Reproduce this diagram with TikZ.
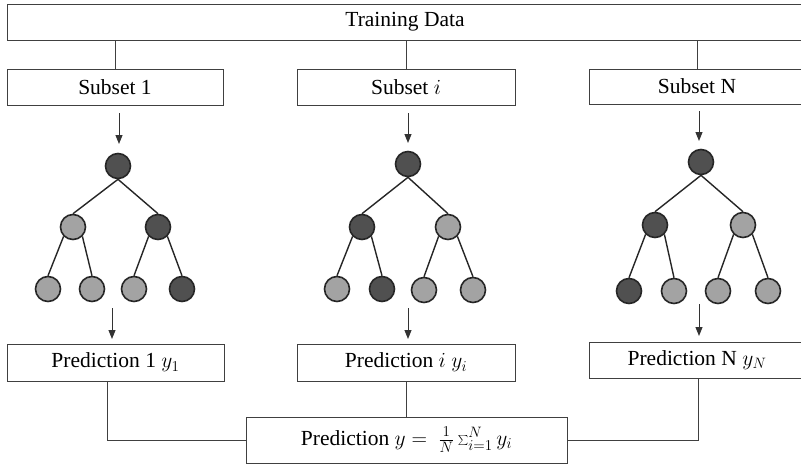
\RequirePackage{fix-cm}
\documentclass[tikz,border=0pt]{standalone}
\usepackage{fontspec}
\setmainfont{Liberation Serif}
\usetikzlibrary{arrows.meta}
\definecolor{dkfill}{HTML}{505050}
\definecolor{ltfill}{HTML}{A3A3A3}
\definecolor{boxline}{HTML}{404040}
\begin{document}
\begin{tikzpicture}[x=1pt,y=-1pt,
  box/.style={draw=boxline,line width=1pt,fill=white,inner sep=0pt,
    font=\fontsize{21.5}{26}\selectfont},
  dk/.style={circle,draw=black!85,line width=1.6pt,fill=dkfill,minimum size=25pt,inner sep=0pt},
  lt/.style={circle,draw=black!85,line width=1.6pt,fill=ltfill,minimum size=25pt,inner sep=0pt},
  edge/.style={draw=black!85,line width=1.4pt},
  conn/.style={draw=boxline,line width=1pt},
  arr/.style={draw=black!80,line width=1pt,-{Triangle[length=9pt,width=7pt]}}]
\useasboundingbox (0,0) rectangle (801,464);
\clip (0,0) rectangle (801,464);
\fill[white] (0,0) rectangle (801,464);

% boxes
\node[box,minimum width=796pt,minimum height=36pt] (train) at (405,22) {Training Data};
\node[box,minimum width=216pt,minimum height=36pt] (s1) at (115,87) {Subset 1};
\node[box,minimum width=218pt,minimum height=36pt] (si) at (406,87) {Subset $i$};
\node[box,minimum width=216pt,minimum height=35pt] (sN) at (697,86.5) {Subset N};
\node[box,minimum width=217pt,minimum height=37pt] (p1) at (115.5,362.5) {Prediction 1 $y_1$};
\node[box,minimum width=218pt,minimum height=37pt] (pi) at (406,362.5) {Prediction $i$ $y_i$};
\node[box,minimum width=216pt,minimum height=36pt] (pN) at (697,360) {Prediction N $y_N$};
\node[box,minimum width=321pt,minimum height=46pt] (pall) at (406.5,440) {Prediction $y = \ \frac{1}{N}\sum_{i=1}^{N} y_i$};

% training data to subsets
\draw[conn] (train.south -| s1.north) -- (s1.north);
\draw[conn] (train.south -| si.north) -- (si.north);
\draw[conn] (train.south -| sN.north) -- (sN.north);

% edges first (behind circles)
\coordinate (a0) at (118,166); \coordinate (a1) at (73,227); \coordinate (a2) at (158,227);
\coordinate (a3) at (48,289); \coordinate (a4) at (92,289); \coordinate (a5) at (134,289); \coordinate (a6) at (182,289);
\coordinate (b0) at (408,164); \coordinate (b1) at (362,227); \coordinate (b2) at (448,227);
\coordinate (b3) at (337,289); \coordinate (b4) at (382,289); \coordinate (b5) at (424,290); \coordinate (b6) at (473,290);
\coordinate (c0) at (701,162); \coordinate (c1) at (655,225); \coordinate (c2) at (743,225);
\coordinate (c3) at (629,291); \coordinate (c4) at (674,291); \coordinate (c5) at (718,291); \coordinate (c6) at (768,291);

% tree 1
\node[dk] (na0) at (a0) {};
\node[lt] (na1) at (a1) {};
\node[dk] (na2) at (a2) {};
\node[lt] (na3) at (a3) {};
\node[lt] (na4) at (a4) {};
\node[lt] (na5) at (a5) {};
\node[dk] (na6) at (a6) {};
\draw[edge] (na0.south) -- (na1.north); \draw[edge] (na0.south) -- (na2.north);
\draw[edge] (na1.south west) -- (na3.north); \draw[edge] (na1.south east) -- (na4.north);
\draw[edge] (na2.south west) -- (na5.north); \draw[edge] (na2.south east) -- (na6.north);

% tree 2
\node[dk] (nb0) at (b0) {};
\node[dk] (nb1) at (b1) {};
\node[lt] (nb2) at (b2) {};
\node[lt] (nb3) at (b3) {};
\node[dk] (nb4) at (b4) {};
\node[lt] (nb5) at (b5) {};
\node[lt] (nb6) at (b6) {};
\draw[edge] (nb0.south) -- (nb1.north); \draw[edge] (nb0.south) -- (nb2.north);
\draw[edge] (nb1.south west) -- (nb3.north); \draw[edge] (nb1.south east) -- (nb4.north);
\draw[edge] (nb2.south west) -- (nb5.north); \draw[edge] (nb2.south east) -- (nb6.north);

% tree 3
\node[dk] (nc0) at (c0) {};
\node[dk] (nc1) at (c1) {};
\node[lt] (nc2) at (c2) {};
\node[dk] (nc3) at (c3) {};
\node[lt] (nc4) at (c4) {};
\node[lt] (nc5) at (c5) {};
\node[lt] (nc6) at (c6) {};
\draw[edge] (nc0.south) -- (nc1.north); \draw[edge] (nc0.south) -- (nc2.north);
\draw[edge] (nc1.south west) -- (nc3.north); \draw[edge] (nc1.south east) -- (nc4.north);
\draw[edge] (nc2.south west) -- (nc5.north); \draw[edge] (nc2.south east) -- (nc6.north);

% arrows subset -> tree
\coordinate (t1s) at (119,113); \coordinate (t1e) at (119,144);
\coordinate (t2s) at (408,113); \coordinate (t2e) at (408,143);
\coordinate (t3s) at (699,111); \coordinate (t3e) at (699,141);
\draw[arr] (t1s) -- (t1e);
\draw[arr] (t2s) -- (t2e);
\draw[arr] (t3s) -- (t3e);

% arrows tree -> prediction
\coordinate (u1s) at (112,308); \coordinate (u1e) at (112,339);
\coordinate (u2s) at (408,308); \coordinate (u2e) at (408,339);
\coordinate (u3s) at (699,304); \coordinate (u3e) at (699,336);
\draw[arr] (u1s) -- (u1e);
\draw[arr] (u2s) -- (u2e);
\draw[arr] (u3s) -- (u3e);

% predictions -> final
\coordinate (q1) at (107,0);
\coordinate (q3) at (698,0);
\draw[conn] (p1.south -| q1) |- (pall.west);
\draw[conn] (pi.south) -- (pi.south |- pall.north);
\draw[conn] (pN.south -| q3) |- (pall.east);
\end{tikzpicture}
\end{document}
